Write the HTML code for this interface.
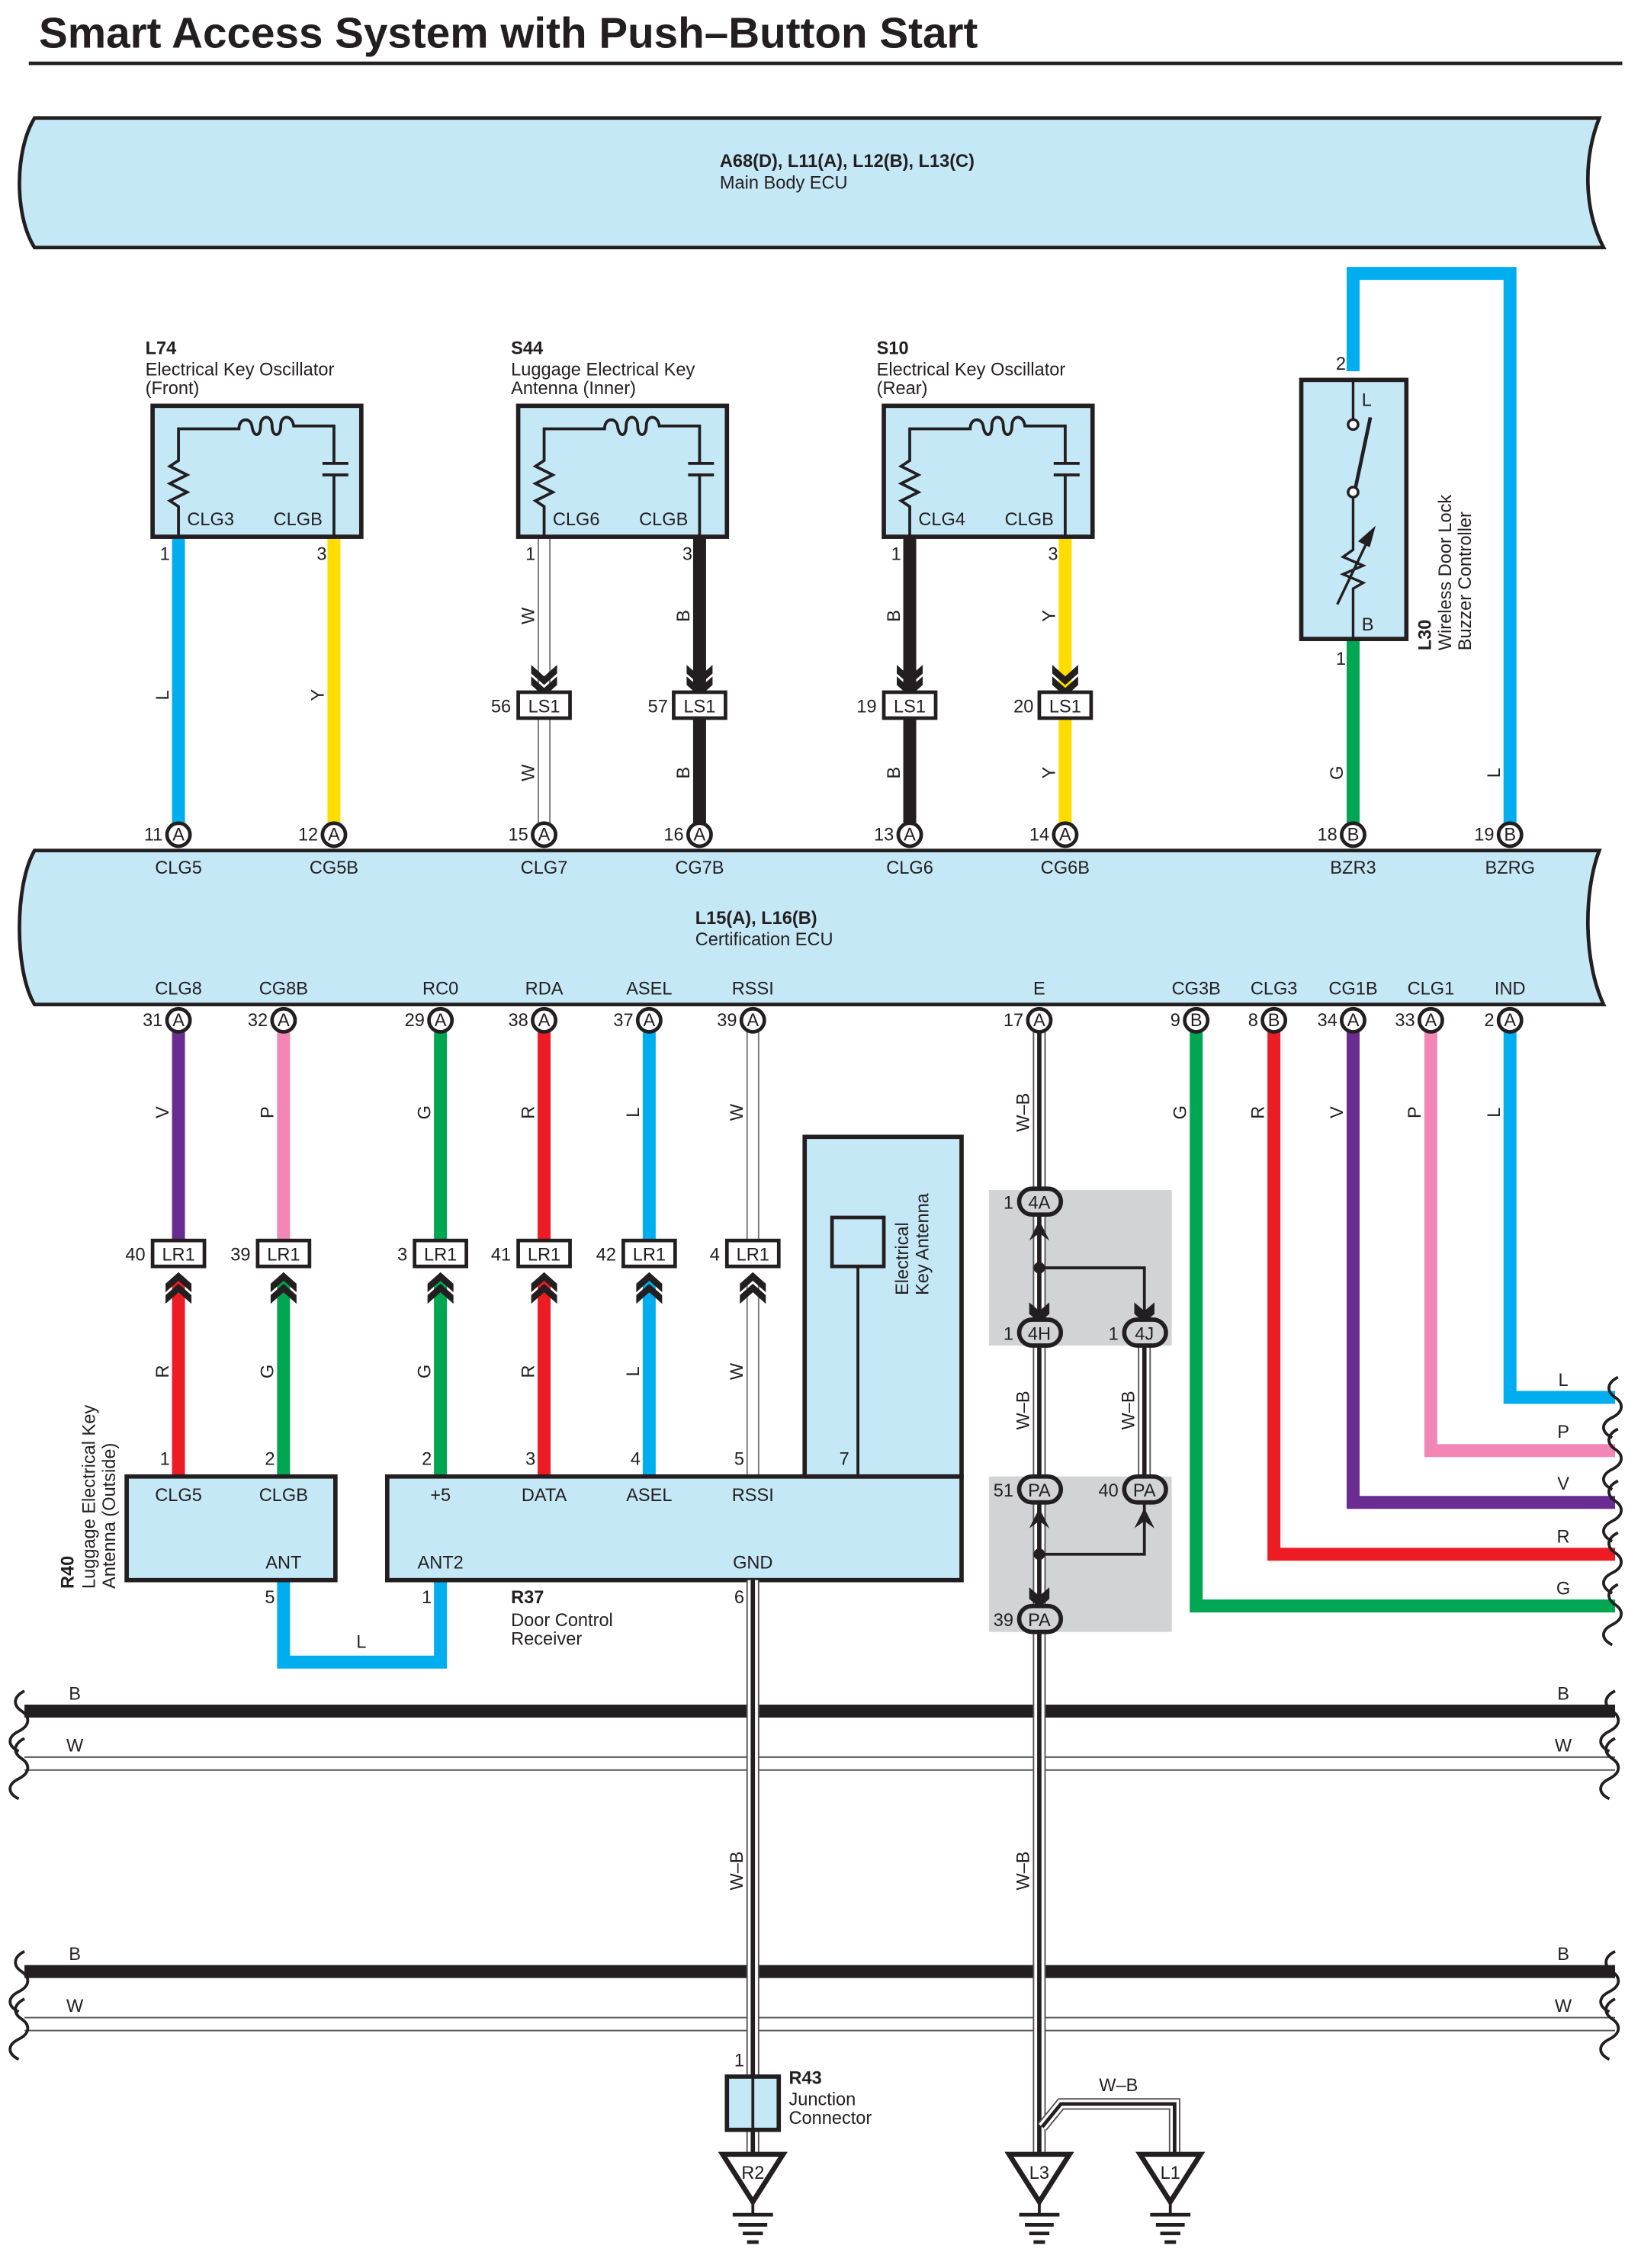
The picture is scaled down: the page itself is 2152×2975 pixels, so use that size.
<!DOCTYPE html>
<html><head><meta charset="utf-8"><style>
html,body{margin:0;padding:0;background:#fff}
svg{display:block}
text{font-family:"Liberation Sans",sans-serif;font-size:12.5px;fill:#231f20}
.b{font-weight:bold}
.m{text-anchor:middle}
.e{text-anchor:end}
</style></head><body>
<svg width="2152" height="2975" viewBox="0 0 1140 1576" preserveAspectRatio="none" xmlns="http://www.w3.org/2000/svg">
<defs>
<g id="osc" fill="none" stroke="#231f20" stroke-width="2">
<rect x="0" y="0" width="145" height="91" fill="#c5e8f7" stroke-width="3"/>
<path d="M18,91 V70 l-6,-4 l12,-6 l-12,-6 l12,-6 l-12,-6 l6,-4 V16 H60 c0,-8 8,-8 9,-2 c1,8 6,8 6,0 c0,-8 8,-8 8,0 c0,8 6,8 6,0 c0,-8 8,-8 9,0 H126 V40 M118,40 H136 M118,48 H136 M126,48 V91"/>
</g>
<g id="chevD" fill="#231f20"><path d="M-9,-14 L0,-6 L9,-14 L9,-8 L0,0 L-9,-8Z M-9,-6 L0,2 L9,-6 L9,0 L0,8 L-9,0Z"/></g>
<g id="chevU" fill="#231f20"><path d="M-9,14 L0,6 L9,14 L9,8 L0,0 L-9,8Z M-9,6 L0,-2 L9,6 L9,0 L0,-8 L-9,0Z"/></g>
<g id="gnd" fill="none" stroke="#231f20"><path d="M-21,0 H21 L0,33 Z" fill="#fff" stroke-width="3.5"/><path d="M0,33 V42" stroke-width="2"/><path d="M-14,42 H14 M-10,49 H10 M-7,55 H7 M-4,61 H4" stroke-width="2.5"/></g>
<g id="wave" fill="none" stroke="#231f20" stroke-width="2"><path d="M0,-18 c-8,4 -8,10 -2,14 c6,4 6,10 -2,14 c-8,4 -8,10 0,14"/></g>
</defs>

<text x="27" y="33" class="b" style="font-size:30px">Smart Access System with Push–Button Start</text>
<line x1="20" y1="44" x2="1127" y2="44" stroke="#231f20" stroke-width="2.5"/>

<path d="M24,82 H1111 C1100,110 1100,145 1114,172 H24 C10,150 10,105 24,82Z" fill="#c5e8f7" stroke="#231f20" stroke-width="2.5"/>
<text x="500" y="116" class="b">A68(D), L11(A), L12(B), L13(C)</text>
<text x="500" y="131">Main Body ECU</text>

<path d="M24,591 H1111 C1100,620 1100,668 1114,698 H24 C10,675 10,615 24,591Z" fill="#c5e8f7" stroke="#231f20" stroke-width="2.5"/>
<text x="483" y="642" class="b">L15(A), L16(B)</text>
<text x="483" y="657">Certification ECU</text>

<g stroke-width="9" fill="none">
<line x1="124" y1="373" x2="124" y2="572" stroke="#00aeef"/>
<line x1="232" y1="373" x2="232" y2="572" stroke="#ffdd00"/>
<line x1="378" y1="373" x2="378" y2="572" stroke="#777"/>
<line x1="378" y1="373" x2="378" y2="572" stroke="#fff" stroke-width="7"/>
<line x1="486" y1="373" x2="486" y2="572" stroke="#231f20"/>
<line x1="632" y1="373" x2="632" y2="572" stroke="#231f20"/>
<line x1="740" y1="373" x2="740" y2="572" stroke="#ffdd00"/>
<path d="M940,258 V190 H1049 V572" stroke="#00aeef"/>
<line x1="940" y1="444" x2="940" y2="572" stroke="#00a651"/>
</g>
<use href="#osc" x="106" y="282"/><use href="#osc" x="360" y="282"/><use href="#osc" x="614" y="282"/>
<text x="130" y="365">CLG3</text><text x="190" y="365">CLGB</text>
<text x="384" y="365">CLG6</text><text x="444" y="365">CLGB</text>
<text x="638" y="365">CLG4</text><text x="698" y="365">CLGB</text>
<text x="101" y="246" class="b">L74</text><text x="101" y="261">Electrical Key Oscillator</text><text x="101" y="274">(Front)</text>
<text x="355" y="246" class="b">S44</text><text x="355" y="261">Luggage Electrical Key</text><text x="355" y="274">Antenna (Inner)</text>
<text x="609" y="246" class="b">S10</text><text x="609" y="261">Electrical Key Oscillator</text><text x="609" y="274">(Rear)</text>
<text x="118" y="389" class="e">1</text><text x="227" y="389" class="e">3</text>
<text x="372" y="389" class="e">1</text><text x="481" y="389" class="e">3</text>
<text x="626" y="389" class="e">1</text><text x="735" y="389" class="e">3</text>
<use href="#chevD" x="378" y="476"/><use href="#chevD" x="486" y="476"/><use href="#chevD" x="632" y="476"/><use href="#chevD" x="740" y="476"/>
<g fill="#fff" stroke="#231f20" stroke-width="2.5">
<rect x="360" y="481" width="36" height="18"/><rect x="468" y="481" width="36" height="18"/><rect x="614" y="481" width="36" height="18"/><rect x="722" y="481" width="36" height="18"/>
</g>
<text x="378" y="495" class="m">LS1</text><text x="486" y="495" class="m">LS1</text><text x="632" y="495" class="m">LS1</text><text x="740" y="495" class="m">LS1</text>
<text x="355" y="495" class="e">56</text><text x="464" y="495" class="e">57</text><text x="609" y="495" class="e">19</text><text x="718" y="495" class="e">20</text>
<g style="font-size:11px">
<text transform="translate(117,483) rotate(-90)" class="m">L</text>
<text transform="translate(225,483) rotate(-90)" class="m">Y</text>
<text transform="translate(371,428) rotate(-90)" class="m">W</text><text transform="translate(371,537) rotate(-90)" class="m">W</text>
<text transform="translate(479,428) rotate(-90)" class="m">B</text><text transform="translate(479,537) rotate(-90)" class="m">B</text>
<text transform="translate(625,428) rotate(-90)" class="m">B</text><text transform="translate(625,537) rotate(-90)" class="m">B</text>
<text transform="translate(733,428) rotate(-90)" class="m">Y</text><text transform="translate(733,537) rotate(-90)" class="m">Y</text>
<text transform="translate(933,537) rotate(-90)" class="m">G</text><text transform="translate(1042,537) rotate(-90)" class="m">L</text>
</g>
<rect x="904" y="264" width="73" height="180" fill="#c5e8f7" stroke="#231f20" stroke-width="3"/>
<g fill="none" stroke="#231f20" stroke-width="1.8">
<path d="M940,264 V292 M940,346 V382 l-7,5 l14,6 l-14,6 l14,6 l-7,4 V444"/>
<path d="M941,342 L952,290" stroke-width="2.5"/>
<circle cx="940" cy="295" r="3.5" fill="#fff"/><circle cx="940" cy="342" r="3.5" fill="#fff"/>
<path d="M929,420 L950,376"/><path d="M954,368 l-9,8 l6,3z" fill="#231f20"/>
</g>
<text x="946" y="282">L</text><text x="946" y="438">B</text>
<text x="935" y="257" class="e">2</text><text x="935" y="462" class="e">1</text>
<text transform="translate(994,452) rotate(-90)" class="b">L30</text>
<text transform="translate(1008,452) rotate(-90)">Wireless Door Lock</text>
<text transform="translate(1022,452) rotate(-90)">Buzzer Controller</text>

<g stroke-width="9" fill="none">
<line x1="124" y1="717" x2="124" y2="862" stroke="#6a2c91"/>
<line x1="197" y1="717" x2="197" y2="862" stroke="#f287b7"/>
<line x1="306" y1="717" x2="306" y2="862" stroke="#00a651"/>
<line x1="378" y1="717" x2="378" y2="862" stroke="#ed1c24"/>
<line x1="451" y1="717" x2="451" y2="862" stroke="#00aeef"/>
<line x1="523" y1="717" x2="523" y2="862" stroke="#777"/><line x1="523" y1="717" x2="523" y2="862" stroke="#fff" stroke-width="7"/>
<line x1="124" y1="890" x2="124" y2="1026" stroke="#ed1c24"/>
<line x1="197" y1="890" x2="197" y2="1026" stroke="#00a651"/>
<line x1="306" y1="890" x2="306" y2="1026" stroke="#00a651"/>
<line x1="378" y1="890" x2="378" y2="1026" stroke="#ed1c24"/>
<line x1="451" y1="890" x2="451" y2="1026" stroke="#00aeef"/>
<line x1="523" y1="890" x2="523" y2="1026" stroke="#777"/><line x1="523" y1="890" x2="523" y2="1026" stroke="#fff" stroke-width="7"/>
<path d="M831,717 V1116 H1122" stroke="#00a651"/>
<path d="M885,717 V1080 H1122" stroke="#ed1c24"/>
<path d="M940,717 V1044 H1122" stroke="#6a2c91"/>
<path d="M994,717 V1008 H1122" stroke="#f287b7"/>
<path d="M1049,717 V971 H1122" stroke="#00aeef"/>
<path d="M197,1098 V1155 H306 V1098" stroke="#00aeef"/>
</g>
<use href="#wave" x="1124" y="975"/><use href="#wave" x="1124" y="1011"/><use href="#wave" x="1124" y="1047"/><use href="#wave" x="1124" y="1083"/><use href="#wave" x="1124" y="1119"/>
<text x="1086" y="963" class="m">L</text><text x="1086" y="999" class="m">P</text><text x="1086" y="1035" class="m">V</text><text x="1086" y="1072" class="m">R</text><text x="1086" y="1108" class="m">G</text>
<g style="font-size:11px">
<text transform="translate(117,773) rotate(-90)" class="m">V</text><text transform="translate(190,773) rotate(-90)" class="m">P</text>
<text transform="translate(299,773) rotate(-90)" class="m">G</text><text transform="translate(371,773) rotate(-90)" class="m">R</text>
<text transform="translate(444,773) rotate(-90)" class="m">L</text><text transform="translate(516,773) rotate(-90)" class="m">W</text>
<text transform="translate(117,953) rotate(-90)" class="m">R</text><text transform="translate(190,953) rotate(-90)" class="m">G</text>
<text transform="translate(299,953) rotate(-90)" class="m">G</text><text transform="translate(371,953) rotate(-90)" class="m">R</text>
<text transform="translate(444,953) rotate(-90)" class="m">L</text><text transform="translate(516,953) rotate(-90)" class="m">W</text>
<text transform="translate(824,773) rotate(-90)" class="m">G</text><text transform="translate(878,773) rotate(-90)" class="m">R</text>
<text transform="translate(933,773) rotate(-90)" class="m">V</text><text transform="translate(987,773) rotate(-90)" class="m">P</text>
<text transform="translate(1042,773) rotate(-90)" class="m">L</text>
</g>
<text x="251" y="1145" class="m">L</text>
<use href="#chevU" x="124" y="892"/><use href="#chevU" x="197" y="892"/><use href="#chevU" x="306" y="892"/><use href="#chevU" x="378" y="892"/><use href="#chevU" x="451" y="892"/><use href="#chevU" x="523" y="892"/>
<g fill="#fff" stroke="#231f20" stroke-width="2.5">
<rect x="106" y="862" width="36" height="18"/><rect x="179" y="862" width="36" height="18"/><rect x="288" y="862" width="36" height="18"/><rect x="360" y="862" width="36" height="18"/><rect x="433" y="862" width="36" height="18"/><rect x="505" y="862" width="36" height="18"/>
</g>
<text x="124" y="876" class="m">LR1</text><text x="197" y="876" class="m">LR1</text><text x="306" y="876" class="m">LR1</text><text x="378" y="876" class="m">LR1</text><text x="451" y="876" class="m">LR1</text><text x="523" y="876" class="m">LR1</text>
<text x="101" y="876" class="e">40</text><text x="174" y="876" class="e">39</text><text x="283" y="876" class="e">3</text><text x="355" y="876" class="e">41</text><text x="428" y="876" class="e">42</text><text x="500" y="876" class="e">4</text>

<rect x="559" y="790" width="109" height="236" fill="#c5e8f7" stroke="#231f20" stroke-width="3"/>
<rect x="578" y="846" width="36" height="34" fill="#c5e8f7" stroke="#231f20" stroke-width="2.5"/>
<line x1="596" y1="880" x2="596" y2="1026" stroke="#231f20" stroke-width="2"/>
<text x="590" y="1018" class="e">7</text>
<text transform="translate(631,900) rotate(-90)">Electrical</text>
<text transform="translate(645,900) rotate(-90)">Key Antenna</text>
<rect x="88" y="1026" width="145" height="72" fill="#c5e8f7" stroke="#231f20" stroke-width="3"/>
<text x="124" y="1043" class="m">CLG5</text><text x="197" y="1043" class="m">CLGB</text><text x="197" y="1090" class="m">ANT</text>
<text x="118" y="1018" class="e">1</text><text x="191" y="1018" class="e">2</text><text x="191" y="1114" class="e">5</text>
<text transform="translate(51,1104) rotate(-90)" class="b">R40</text>
<text transform="translate(66,1104) rotate(-90)">Luggage Electrical Key</text>
<text transform="translate(80,1104) rotate(-90)">Antenna (Outside)</text>
<rect x="269" y="1026" width="399" height="72" fill="#c5e8f7" stroke="#231f20" stroke-width="3"/>
<line x1="559" y1="1026" x2="668" y2="1026" stroke="#231f20" stroke-width="3"/>
<text x="306" y="1043" class="m">+5</text><text x="378" y="1043" class="m">DATA</text><text x="451" y="1043" class="m">ASEL</text><text x="523" y="1043" class="m">RSSI</text>
<text x="306" y="1090" class="m">ANT2</text><text x="523" y="1090" class="m">GND</text>
<text x="300" y="1018" class="e">2</text><text x="372" y="1018" class="e">3</text><text x="445" y="1018" class="e">4</text><text x="517" y="1018" class="e">5</text>
<text x="300" y="1114" class="e">1</text><text x="517" y="1114" class="e">6</text>
<text x="355" y="1114" class="b">R37</text><text x="355" y="1130">Door Control</text><text x="355" y="1143">Receiver</text>

<rect x="687" y="827" width="127" height="108" fill="#d1d3d4"/>
<rect x="687" y="1026" width="127" height="108" fill="#d1d3d4"/>

<line x1="17" y1="1189" x2="1122" y2="1189" stroke="#231f20" stroke-width="9"/>
<line x1="17" y1="1221" x2="1122" y2="1221" stroke="#555" stroke-width="1"/><line x1="17" y1="1230" x2="1122" y2="1230" stroke="#555" stroke-width="1"/>
<line x1="17" y1="1370" x2="1122" y2="1370" stroke="#231f20" stroke-width="9"/>
<line x1="17" y1="1402" x2="1122" y2="1402" stroke="#555" stroke-width="1"/><line x1="17" y1="1411" x2="1122" y2="1411" stroke="#555" stroke-width="1"/>
<use href="#wave" x="17" y="1193"/><use href="#wave" x="17" y="1226"/><use href="#wave" x="1122" y="1193"/><use href="#wave" x="1122" y="1226"/>
<use href="#wave" x="17" y="1374"/><use href="#wave" x="17" y="1407"/><use href="#wave" x="1122" y="1374"/><use href="#wave" x="1122" y="1407"/>
<text x="52" y="1181" class="m">B</text><text x="1086" y="1181" class="m">B</text><text x="52" y="1217" class="m">W</text><text x="1086" y="1217" class="m">W</text>
<text x="52" y="1362" class="m">B</text><text x="1086" y="1362" class="m">B</text><text x="52" y="1398" class="m">W</text><text x="1086" y="1398" class="m">W</text>

<g fill="none">
<path d="M523,1098 V1443 M523,1480 V1497 M722,717 V1497 M795,935 V1026" stroke="#555" stroke-width="9"/>
<path d="M523,1098 V1443 M523,1480 V1497 M722,717 V1497 M795,935 V1026" stroke="#fff" stroke-width="7"/>
<path d="M523,1098 V1443 M523,1480 V1497 M722,717 V1497 M795,935 V1026" stroke="#231f20" stroke-width="3"/>
<path d="M724,1478 L737,1462 H816 V1497" stroke="#555" stroke-width="8"/>
<path d="M724,1478 L737,1462 H816 V1497" stroke="#fff" stroke-width="6"/>
<path d="M724,1478 L737,1462 H816 V1497" stroke="#231f20" stroke-width="2.5"/>
<path d="M722,881 H795 V915 M722,1080 H795 V1045" stroke="#231f20" stroke-width="2"/>
</g>
<circle cx="722" cy="881" r="4" fill="#231f20"/><circle cx="722" cy="1080" r="4" fill="#231f20"/>
<g fill="#231f20">
<path d="M715,862 l7,-14 l7,14 l-7,-5z"/><path d="M715,905 l7,6 l7,-6 l0,8 l-7,6 l-7,-6z"/><path d="M788,905 l7,6 l7,-6 l0,8 l-7,6 l-7,-6z"/>
<path d="M715,1062 l7,-14 l7,14 l-7,-5z"/><path d="M788,1062 l7,-14 l7,14 l-7,-5z"/><path d="M715,1103 l7,6 l7,-6 l0,8 l-7,6 l-7,-6z"/>
</g>
<g fill="#d1d3d4" stroke="#231f20" stroke-width="3">
<rect x="708" y="826" width="29" height="18" rx="9"/><rect x="708" y="917" width="29" height="18" rx="9"/><rect x="781" y="917" width="29" height="18" rx="9"/>
<rect x="708" y="1026" width="29" height="18" rx="9"/><rect x="781" y="1026" width="29" height="18" rx="9"/><rect x="708" y="1116" width="29" height="18" rx="9"/>
</g>
<text x="722" y="840" class="m">4A</text><text x="722" y="931" class="m">4H</text><text x="795" y="931" class="m">4J</text>
<text x="722" y="1040" class="m">PA</text><text x="795" y="1040" class="m">PA</text><text x="722" y="1130" class="m">PA</text>
<text x="704" y="840" class="e">1</text><text x="704" y="931" class="e">1</text><text x="777" y="931" class="e">1</text>
<text x="704" y="1040" class="e">51</text><text x="777" y="1040" class="e">40</text><text x="704" y="1130" class="e">39</text>
<g style="font-size:11px">
<text transform="translate(715,773) rotate(-90)" class="m">W–B</text>
<text transform="translate(715,980) rotate(-90)" class="m">W–B</text>
<text transform="translate(788,980) rotate(-90)" class="m">W–B</text>
<text transform="translate(516,1300) rotate(-90)" class="m">W–B</text>
<text transform="translate(715,1300) rotate(-90)" class="m">W–B</text>
</g>
<text x="777" y="1453" class="m">W–B</text>

<rect x="505" y="1443" width="36" height="37" fill="#c5e8f7" stroke="#231f20" stroke-width="3"/>
<line x1="523" y1="1443" x2="523" y2="1480" stroke="#231f20" stroke-width="2"/>
<text x="517" y="1436" class="e">1</text>
<text x="548" y="1448" class="b">R43</text><text x="548" y="1463">Junction</text><text x="548" y="1476">Connector</text>
<use href="#gnd" x="523" y="1497"/><use href="#gnd" x="722" y="1497"/><use href="#gnd" x="813" y="1497"/>
<text x="523" y="1514" class="m">R2</text><text x="722" y="1514" class="m">L3</text><text x="813" y="1514" class="m">L1</text>

<g fill="#fff" stroke="#231f20" stroke-width="2.5">
<circle cx="124" cy="580" r="8"/><circle cx="232" cy="580" r="8"/><circle cx="378" cy="580" r="8"/><circle cx="486" cy="580" r="8"/><circle cx="632" cy="580" r="8"/><circle cx="740" cy="580" r="8"/><circle cx="940" cy="580" r="8"/><circle cx="1049" cy="580" r="8"/>
<circle cx="124" cy="709" r="8"/><circle cx="197" cy="709" r="8"/><circle cx="306" cy="709" r="8"/><circle cx="378" cy="709" r="8"/><circle cx="451" cy="709" r="8"/><circle cx="523" cy="709" r="8"/><circle cx="722" cy="709" r="8"/><circle cx="831" cy="709" r="8"/><circle cx="885" cy="709" r="8"/><circle cx="940" cy="709" r="8"/><circle cx="994" cy="709" r="8"/><circle cx="1049" cy="709" r="8"/>
</g>
<g style="font-size:11px">
<text x="124" y="584" class="m">A</text><text x="232" y="584" class="m">A</text><text x="378" y="584" class="m">A</text><text x="486" y="584" class="m">A</text><text x="632" y="584" class="m">A</text><text x="740" y="584" class="m">A</text><text x="940" y="584" class="m">B</text><text x="1049" y="584" class="m">B</text>
<text x="124" y="713" class="m">A</text><text x="197" y="713" class="m">A</text><text x="306" y="713" class="m">A</text><text x="378" y="713" class="m">A</text><text x="451" y="713" class="m">A</text><text x="523" y="713" class="m">A</text><text x="722" y="713" class="m">A</text><text x="831" y="713" class="m">B</text><text x="885" y="713" class="m">B</text><text x="940" y="713" class="m">A</text><text x="994" y="713" class="m">A</text><text x="1049" y="713" class="m">A</text>
</g>
<text x="113" y="584" class="e">11</text><text x="221" y="584" class="e">12</text><text x="367" y="584" class="e">15</text><text x="475" y="584" class="e">16</text><text x="621" y="584" class="e">13</text><text x="729" y="584" class="e">14</text><text x="929" y="584" class="e">18</text><text x="1038" y="584" class="e">19</text>
<text x="113" y="713" class="e">31</text><text x="186" y="713" class="e">32</text><text x="295" y="713" class="e">29</text><text x="367" y="713" class="e">38</text><text x="440" y="713" class="e">37</text><text x="512" y="713" class="e">39</text><text x="711" y="713" class="e">17</text><text x="820" y="713" class="e">9</text><text x="874" y="713" class="e">8</text><text x="929" y="713" class="e">34</text><text x="983" y="713" class="e">33</text><text x="1038" y="713" class="e">2</text>
<text x="124" y="607" class="m">CLG5</text><text x="232" y="607" class="m">CG5B</text><text x="378" y="607" class="m">CLG7</text><text x="486" y="607" class="m">CG7B</text><text x="632" y="607" class="m">CLG6</text><text x="740" y="607" class="m">CG6B</text><text x="940" y="607" class="m">BZR3</text><text x="1049" y="607" class="m">BZRG</text>
<text x="124" y="691" class="m">CLG8</text><text x="197" y="691" class="m">CG8B</text><text x="306" y="691" class="m">RC0</text><text x="378" y="691" class="m">RDA</text><text x="451" y="691" class="m">ASEL</text><text x="523" y="691" class="m">RSSI</text><text x="722" y="691" class="m">E</text><text x="831" y="691" class="m">CG3B</text><text x="885" y="691" class="m">CLG3</text><text x="940" y="691" class="m">CG1B</text><text x="994" y="691" class="m">CLG1</text><text x="1049" y="691" class="m">IND</text>
</svg>
</body></html>
